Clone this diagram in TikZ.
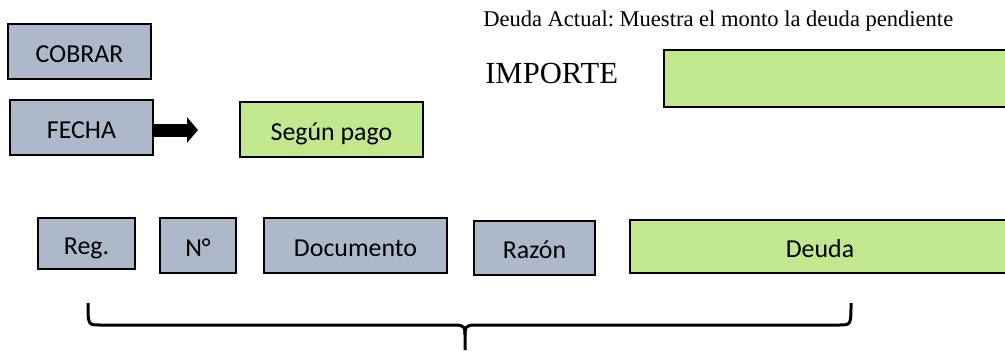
\documentclass[tikz,border=0pt]{standalone}
\usepackage{fontspec}
\setmainfont{Liberation Serif}
\newfontfamily\calibri{Carlito}
\usetikzlibrary{arrows.meta}
\frenchspacing

\definecolor{grisazul}{RGB}{173,185,202}
\definecolor{verdeclaro}{RGB}{194,232,143}

\tikzset{
    campo/.style={draw=black, line width=1.5pt, fill=grisazul, inner sep=0pt,
        font=\calibri\fontsize{19.4}{23}\selectfont, text height=19pt, text depth=2.7pt},
    valor/.style={campo, fill=verdeclaro}
}

\begin{document}
\begin{tikzpicture}[x=0.75pt, y=-0.75pt]
        \useasboundingbox (0,0) rectangle (1005,350);

        % encabezado
        \node[anchor=base west, inner sep=0pt, font=\fontsize{16.9}{20}\selectfont] at (483,26) (actual) {Deuda Actual: Muestra el monto la deuda pendiente};
        \node[anchor=base west, inner sep=0pt, font=\fontsize{23}{27}\selectfont] at (485,83) (importe) {IMPORTE};
        \node[valor, minimum width=346*0.75pt, minimum height=57*0.75pt] at (837,78.5) (monto) {};

        \node[campo, minimum width=143*0.75pt, minimum height=55*0.75pt] at (79.5,51.5) (cobrar) {COBRAR};
        \node[campo, minimum width=143*0.75pt, minimum height=55*0.75pt] at (81.5,127.5) (fecha) {FECHA};
        \node[valor, minimum width=183*0.75pt, minimum height=55*0.75pt] at (331.5,129.5) (pago) {Según pago};
        \coordinate (punta) at (198,130);

        \draw[line width=13*0.75pt, -{Triangle[length=11*0.75pt, width=25*0.75pt]}] (fecha.east |- punta) -- (punta);

        % fila de columnas
        \node[campo, minimum width=97*0.75pt, minimum height=51*0.75pt] at (86.5,243.5) (reg) {Reg.};
        \node[campo, minimum width=76*0.75pt, minimum height=55*0.75pt] at (198,245.5) (num) {N°};
        \node[campo, minimum width=183*0.75pt, minimum height=55*0.75pt] at (355.5,245.5) (doc) {Documento};
        \node[campo, minimum width=121*0.75pt, minimum height=54*0.75pt] at (534.5,248) (razon) {Razón};
        \node[valor, minimum width=380*0.75pt, minimum height=53*0.75pt] at (820,246.5) (deuda) {Deuda};

        % llave
        \coordinate (izq) at (88,303);
        \coordinate (der) at (851,303);
        \coordinate (pico) at (465,350);
        \draw[line width=2.25pt] (izq) .. controls (88,325) and (88,325) .. (100,325) -- (455,325)
            .. controls (465,325) and (465,328) .. (465,335) -- (pico);
        \draw[line width=2.25pt] (der) .. controls (851,325) and (851,325) .. (839,325) -- (475,325)
            .. controls (465,325) and (465,328) .. (465,335);

    \end{tikzpicture}
\end{document}
